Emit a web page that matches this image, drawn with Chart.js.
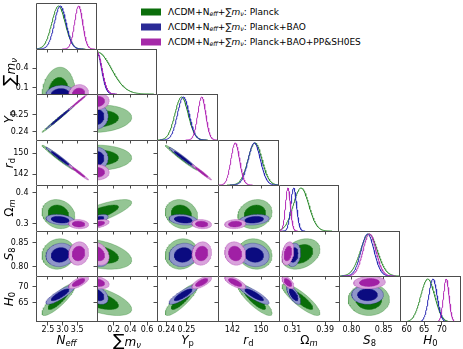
<!DOCTYPE html>
<html>
<head>
<meta charset="utf-8">
<script src="https://cdn.jsdelivr.net/npm/chart.js@4.4.1/dist/chart.umd.min.js"></script>
<style>
body { margin: 0; background: #fff; font-family: "DejaVu Sans", sans-serif; }
#fig { position: relative; width: 463px; height: 349px; overflow: hidden; }
#fig canvas { position: absolute; }
.lab { position: absolute; font-size: 12px; line-height: 1; color: #000; white-space: nowrap; transform: translate(-50%, -50%); }
.ylab { transform: translate(-50%, -50%) rotate(-90deg); }
.lab sub, .leg sub { font-size: 70%; line-height: 0; vertical-align: -0.25em; }
.big { font-size: 17px; }
.leg { position: absolute; left: 168px; font-size: 9px; line-height: 1; white-space: nowrap; color: #000; transform: translateY(-50%); }
.sw { position: absolute; left: 141px; width: 20px; height: 7px; transform: translateY(-50%); }
</style>
</head>
<body>
<div id="fig"></div>
<script>
// parametros: Neff, sum mnu, Yp, rd, Omega_m, S8, H0
const paramKeys = ['Neff', 'mnu', 'Yp', 'rd', 'Om', 'S8', 'H0'];

const xRange = [[2.09, 4.18], [0, 0.72], [0.2353, 0.2657], [138, 155], [0.277, 0.424], [0.781, 0.875], [58.1, 75.5]];
const yRange = [[2.09, 4.18], [0, 0.70], [0.2350, 0.2620], [138, 155], [0.277, 0.424], [0.781, 0.875], [59.1, 73.3]];

const xTicks = [[2.5, 3.0, 3.5], [0.2, 0.4, 0.6], [0.24, 0.25], [142, 150], [0.31, 0.39], [0.80, 0.85], [60, 65, 70]];
const xTickLabels = [['2.5', '3.0', '3.5'], ['0.2', '0.4', '0.6'], ['0.24', '0.25'], ['142', '150'], ['0.31', '0.39'], ['0.80', '0.85'], ['60', '65', '70']];
const yTicks = [[], [0.1, 0.4], [0.24, 0.25], [142, 150], [0.3, 0.4], [0.80, 0.85], [65, 70]];
const yTickLabels = [[], ['0.1', '0.4'], ['0.24', '0.25'], ['142', '150'], ['0.3', '0.4'], ['0.80', '0.85'], ['65', '70']];

// medias y sigmas
const meanPlanck  = [2.86, 0, 0.2475, 148.3, 0.331, 0.827, 66.0];
const sigmaPlanck = [0.23, 0.17, 0.0033, 1.95, 0.019, 0.013, 2.0];
const meanBAO     = [2.92, 0, 0.2484, 148.1, 0.313, 0.825, 67.5];
const sigmaBAO    = [0.20, 0.055, 0.0029, 1.7, 0.007, 0.010, 1.2];
const meanSH0ES   = [3.55, 0, 0.2576, 142.8, 0.299, 0.828, 71.3];
const sigmaSH0ES  = [0.14, 0.06, 0.0020, 1.2, 0.006, 0.010, 0.8];

// correlaciones (triangulo inferior, fila i = parametro y)
const corrPlanck = [
    [],
    [0.1],
    [0.995, 0.1],
    [-0.98, 0.0, -0.98],
    [-0.15, 0.8, -0.15, 0.15],
    [0.1, -0.4, 0.1, -0.1, 0.3],
    [0.85, -0.6, 0.85, -0.85, -0.85, 0.0]
];
const corrBAO = [
    [],
    [0.1],
    [0.995, 0.1],
    [-0.98, 0.0, -0.98],
    [-0.25, 0.6, -0.25, 0.25],
    [0.1, -0.3, 0.1, -0.1, 0.2],
    [0.85, -0.4, 0.85, -0.85, -0.7, 0.0]
];
const corrSH0ES = [
    [],
    [0.1],
    [0.995, 0.1],
    [-0.98, 0.0, -0.98],
    [-0.1, 0.5, -0.1, 0.1],
    [0.1, -0.3, 0.1, -0.1, 0.3],
    [0.7, -0.3, 0.7, -0.7, -0.6, 0.1]
];

const runNames = ['Planck', 'Planck+BAO', 'Planck+BAO+PP&SH0ES'];

const COLORS = {
    dark:  ['#0a6e0a', '#0b0b80', '#a020a5'],
    light: ['#94c594', '#8f95c9', '#d9a3dc'],
    line:  ['#2e8b2e', '#2b2bb4', '#b42cb8'],
    legend: ['#0b6e0b', '#2a2a96', '#a52aa8']
};

const runs = [
    { mean: meanPlanck, sigma: sigmaPlanck, corr: corrPlanck },
    { mean: meanBAO, sigma: sigmaBAO, corr: corrBAO },
    { mean: meanSH0ES, sigma: sigmaSH0ES, corr: corrSH0ES }
];

const axisTitles = [
    '<i>N</i><sub><i>eff</i></sub>',
    '<span class="big">&sum;</span><i>m</i><sub><i>&nu;</i></sub>',
    '<i>Y</i><sub>p</sub>',
    '<i>r</i><sub>d</sub>',
    '&Omega;<sub><i>m</i></sub>',
    '<i>S</i><sub>8</sub>',
    '<i>H</i><sub>0</sub>'
];
const legendHtml = runNames.map(n => '&Lambda;CDM+N<sub><i>eff</i></sub>+&sum;<i>m</i><sub><i>&nu;</i></sub>: ' + n.replace('&', '&amp;'));

// layout de paneles (px)
const colX = [36, 97, 157, 218, 279, 339, 400, 461];
const rowY = [3, 49, 94, 140, 185, 231, 276, 322];
const R1 = 1.515, R2 = 2.448;   // radios 68% y 95% en 2D

Chart.defaults.font.family = 'DejaVu Sans';
const tickFont = { family: 'DejaVu Sans', size: 8 };
const fig = document.getElementById('fig');

const framePlugin = {
    id: 'frame',
    afterDraw(chart, args, opts) {
        const { left, top, right, bottom } = chart.chartArea;
        const ctx = chart.ctx;
        ctx.save();
        ctx.strokeStyle = '#4d4d4d';
        ctx.lineWidth = 1;
        ctx.beginPath();
        ctx.moveTo(left + 0.5, bottom);
        ctx.lineTo(left + 0.5, top + 0.5);
        ctx.lineTo(right, top + 0.5);
        if (opts.right) { ctx.moveTo(right - 0.5, top); ctx.lineTo(right - 0.5, bottom); }
        if (opts.bottom) { ctx.moveTo(left, bottom - 0.5); ctx.lineTo(right, bottom - 0.5); }
        ctx.stroke();
        ctx.restore();
    }
};

function contour(run, px, py, r) {
    const mx = run.mean[px], my = run.mean[py];
    const sx = run.sigma[px], sy = run.sigma[py];
    const rho = run.corr[py][px];
    const pts = [];
    for (let k = 0; k <= 90; k++) {
        const t = k / 90 * 2 * Math.PI;
        pts.push({ x: mx + r * sx * Math.cos(t), y: my + r * sy * (rho * Math.cos(t) + Math.sqrt(1 - rho * rho) * Math.sin(t)) });
    }
    return pts;
}

function density(run, p) {
    const a = Math.max(xRange[p][0], run.mean[p] - 4 * run.sigma[p]);
    const b = Math.min(xRange[p][1], run.mean[p] + 4 * run.sigma[p]);
    const pts = [];
    for (let k = 0; k <= 120; k++) {
        const x = a + (b - a) * k / 120;
        const z = (x - run.mean[p]) / run.sigma[p];
        pts.push({ x, y: Math.exp(-0.5 * z * z) });
    }
    return pts;
}

function axis(range, ticks, labels, showLabels, fitSize, horizontal) {
    return {
        type: 'linear', min: range[0], max: range[1],
        afterBuildTicks: s => { s.ticks = ticks.map(v => ({ value: v })); },
        afterFit: s => {
            if (horizontal) s.height = fitSize; else s.width = fitSize;
            s.paddingLeft = s.paddingRight = s.paddingTop = s.paddingBottom = 0;
        },
        ticks: {
            display: showLabels, autoSkip: false, maxRotation: 0, padding: horizontal ? 0 : 4,
            font: tickFont, color: '#000', callback: (v, k) => labels[k]
        },
        grid: { drawOnChartArea: false, drawTicks: true, tickLength: 3.5, color: '#4d4d4d', lineWidth: 1 },
        border: { display: false }
    };
}

function makePanel(i, j) {
    const diag = i === j;
    const yw = diag ? 0 : (j === 0 ? 36 : 4);
    const xh = i === 6 ? 14 : 4;
    const w = colX[j + 1] - colX[j] + yw;
    const h = rowY[i + 1] - rowY[i] + xh;
    const cv = document.createElement('canvas');
    cv.width = w; cv.height = h;
    cv.style.left = (colX[j] - yw) + 'px';
    cv.style.top = rowY[i] + 'px';
    fig.appendChild(cv);

    let datasets;
    if (diag) {
        datasets = runs.map((run, r) => ({
            data: density(run, i), showLine: true, pointRadius: 0, borderWidth: 1,
            borderColor: COLORS.line[r], fill: false, tension: 0, order: 3 - r
        }));
    } else {
        datasets = [];
        runs.forEach((run, r) => {
            datasets.push({
                data: contour(run, j, i, R2), showLine: true, pointRadius: 0, borderWidth: 0.5,
                borderColor: COLORS.dark[r] + '80', backgroundColor: COLORS.light[r], fill: 'shape', tension: 0, order: 10 - 2 * r
            });
            datasets.push({
                data: contour(run, j, i, R1), showLine: true, pointRadius: 0, borderWidth: 0.5,
                borderColor: COLORS.dark[r], backgroundColor: COLORS.dark[r], fill: 'shape', tension: 0, order: 9 - 2 * r
            });
        });
    }

    new Chart(cv, {
        type: 'scatter',
        data: { datasets },
        options: {
            responsive: false, animation: false, devicePixelRatio: 1, events: [],
            layout: { padding: 0 },
            scales: {
                x: axis(xRange[j], xTicks[j], xTickLabels[j], i === 6, xh, true),
                y: diag ? { display: false, min: 0, max: 1.07 } : axis(yRange[i], yTicks[i], yTickLabels[i], j === 0, yw, false)
            },
            plugins: {
                legend: { display: false }, tooltip: { enabled: false },
                frame: { right: diag, bottom: i === 6 }
            }
        },
        plugins: [framePlugin]
    });
}

for (let i = 0; i < 7; i++) {
    for (let j = 0; j <= i; j++) makePanel(i, j);
}

// titulos de ejes
function addLabel(html, x, y, rotated) {
    const d = document.createElement('div');
    d.className = 'lab' + (rotated ? ' ylab' : '');
    d.innerHTML = html;
    d.style.left = x + 'px';
    d.style.top = y + 'px';
    fig.appendChild(d);
}
for (let p = 0; p < 7; p++) {
    addLabel(axisTitles[p], (colX[p] + colX[p + 1]) / 2, 340, false);
    if (p > 0) addLabel(axisTitles[p], 9, (rowY[p] + rowY[p + 1]) / 2, true);
}

// leyenda
[12, 27, 42].forEach((y, r) => {
    const sw = document.createElement('div');
    sw.className = 'sw';
    sw.style.top = y + 'px';
    sw.style.background = COLORS.legend[r];
    fig.appendChild(sw);
    const t = document.createElement('div');
    t.className = 'leg';
    t.style.top = y + 'px';
    t.innerHTML = legendHtml[r];
    fig.appendChild(t);
});
</script>
</body>
</html>
